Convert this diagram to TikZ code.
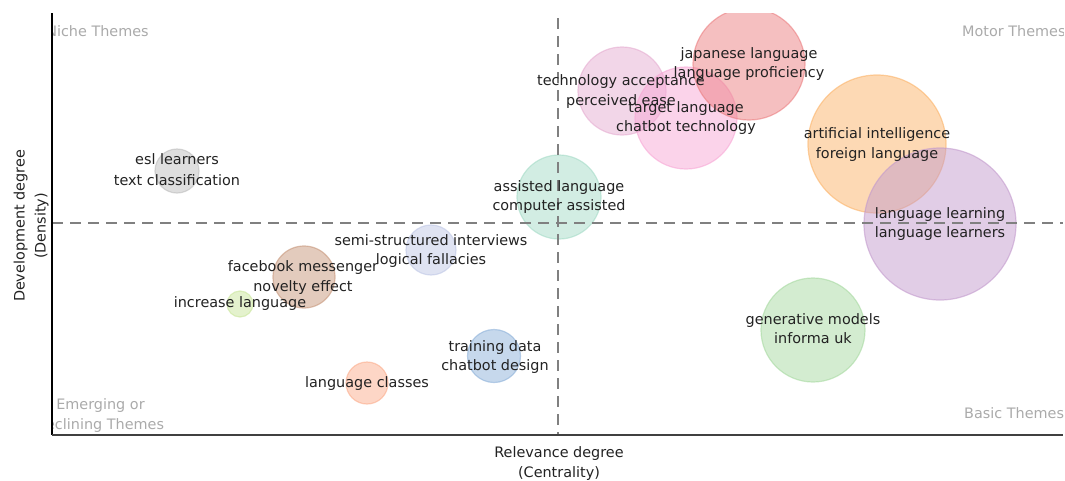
\documentclass[tikz,border=0pt]{standalone}
\usepackage{fontspec}
\setmainfont{DejaVu Sans}
\definecolor{cEsl}{RGB}{189,189,189}
\definecolor{cTech}{RGB}{229,173,209}
\definecolor{cTarget}{RGB}{247,167,213}
\definecolor{cJap}{RGB}{235,127,129}
\definecolor{cOrange}{RGB}{251,179,105}
\definecolor{cPurple}{RGB}{195,155,205}
\definecolor{cAssist}{RGB}{165,219,199}
\definecolor{cSemi}{RGB}{191,199,229}
\definecolor{cFace}{RGB}{199,151,123}
\definecolor{cIncr}{RGB}{201,229,155}
\definecolor{cTrain}{RGB}{141,177,217}
\definecolor{cClass}{RGB}{251,173,141}
\definecolor{cGen}{RGB}{167,217,161}
\definecolor{cText}{RGB}{34,34,34}
\definecolor{cQuad}{RGB}{170,170,170}
\definecolor{cDash}{RGB}{128,128,128}
\tikzset{
  bubble/.style={circle, inner sep=0pt, fill=#1, draw=#1, fill opacity=0.5, draw opacity=0.6, line width=1.2pt},
  txt/.style={anchor=mid, inner sep=0pt, font=\fontsize{14.4}{18}\selectfont, text=cText},
  lbl/.style={txt, yshift=-3pt},
  quad/.style={lbl, text=cQuad},
  quadw/.style={quad, anchor=mid west},
  guide/.style={draw=cDash, line width=1.8pt, dash pattern=on 11pt off 7pt},
}
\begin{document}
\begin{tikzpicture}[x=1pt,y=-1pt]
\useasboundingbox (0,0) rectangle (1065,480);
\coordinate (tl) at (52,13);
\coordinate (bl) at (52,435);
\coordinate (br) at (1063,435);
\coordinate (vtop) at (558,18);
\coordinate (vbot) at (558,435);
\coordinate (hl) at (52,223);
\coordinate (hr) at (1063,223);
\begin{scope}
\clip (tl) rectangle (br);
\node[bubble=cEsl, minimum size=44pt] (bEsl) at (177,171) {};
\node[bubble=cTech, minimum size=88pt] (bTech) at (622,91) {};
\node[bubble=cTarget, minimum size=102pt] (bTarget) at (686,118) {};
\node[bubble=cJap, minimum size=112pt] (bJap) at (749,64) {};
\node[bubble=cOrange, minimum size=138pt] (bOrange) at (877,144) {};
\node[bubble=cPurple, minimum size=152pt] (bPurple) at (940,224) {};
\node[bubble=cAssist, minimum size=84pt] (bAssist) at (559,197) {};
\node[bubble=cSemi, minimum size=50pt] (bSemi) at (431,250) {};
\node[bubble=cFace, minimum size=62pt] (bFace) at (304,277) {};
\node[bubble=cIncr, minimum size=26pt] (bIncr) at (240,304) {};
\node[bubble=cTrain, minimum size=53pt] (bTrain) at (494,356) {};
\node[bubble=cClass, minimum size=42pt] (bClass) at (367,383) {};
\node[bubble=cGen, minimum size=104pt] (bGen) at (813,330) {};
\draw[guide] (vtop) -- (vbot);
\draw[guide] (hl) -- (hr);
\node[quad] (qNiche) at (97.5,31) {Niche Themes};
\node[quadw] (qMotor) at (962,31) {Motor Themes};
\node[quadw] (qBasic) at (964,413) {Basic Themes};
\node[quad] (qEm1) at (100.5,404) {Emerging or};
\node[quad] (qEm2) at (100.5,424) {declining Themes};
\node[lbl] (tEsl1) at (177,159) {esl learners};
\node[lbl] (tEsl2) at (177,180) {text classification};
\node[lbl] (tTech1) at (621,80) {technology acceptance};
\node[lbl] (tTech2) at (621,100) {perceived ease};
\node[lbl] (tTarget1) at (686,107) {target language};
\node[lbl] (tTarget2) at (686,126) {chatbot technology};
\node[lbl] (tJap1) at (749,53) {japanese language};
\node[lbl] (tJap2) at (749,72) {language proficiency};
\node[lbl] (tOr1) at (877,133) {artificial intelligence};
\node[lbl] (tOr2) at (877,153) {foreign language};
\node[lbl] (tPu1) at (940,213) {language learning};
\node[lbl] (tPu2) at (940,232) {language learners};
\node[lbl] (tAs1) at (559,186) {assisted language};
\node[lbl] (tAs2) at (559,205) {computer assisted};
\node[lbl] (tSemi1) at (431,240) {semi-structured interviews};
\node[lbl] (tSemi2) at (431,259) {logical fallacies};
\node[lbl] (tFace1) at (303,266) {facebook messenger};
\node[lbl] (tFace2) at (303,286) {novelty effect};
\node[lbl] (tIncr) at (240,302) {increase language};
\node[lbl] (tTrain1) at (495,346) {training data};
\node[lbl] (tTrain2) at (495,365) {chatbot design};
\node[lbl] (tClass) at (367,382) {language classes};
\node[lbl] (tGen1) at (813,319) {generative models};
\node[lbl] (tGen2) at (813,338) {informa uk};
\end{scope}
\draw[line width=1.2pt, black] (tl) -- (bl);
\draw[line width=1.2pt, black!75] (bl) -- (br);
\node[lbl] (xl1) at (559,452) {Relevance degree};
\node[lbl] (xl2) at (559,472) {(Centrality)};
\node[txt, rotate=90] (yl1) at (22,226) {Development degree};
\node[txt, rotate=90] (yl2) at (43,226) {(Density)};
\end{tikzpicture}
\end{document}
